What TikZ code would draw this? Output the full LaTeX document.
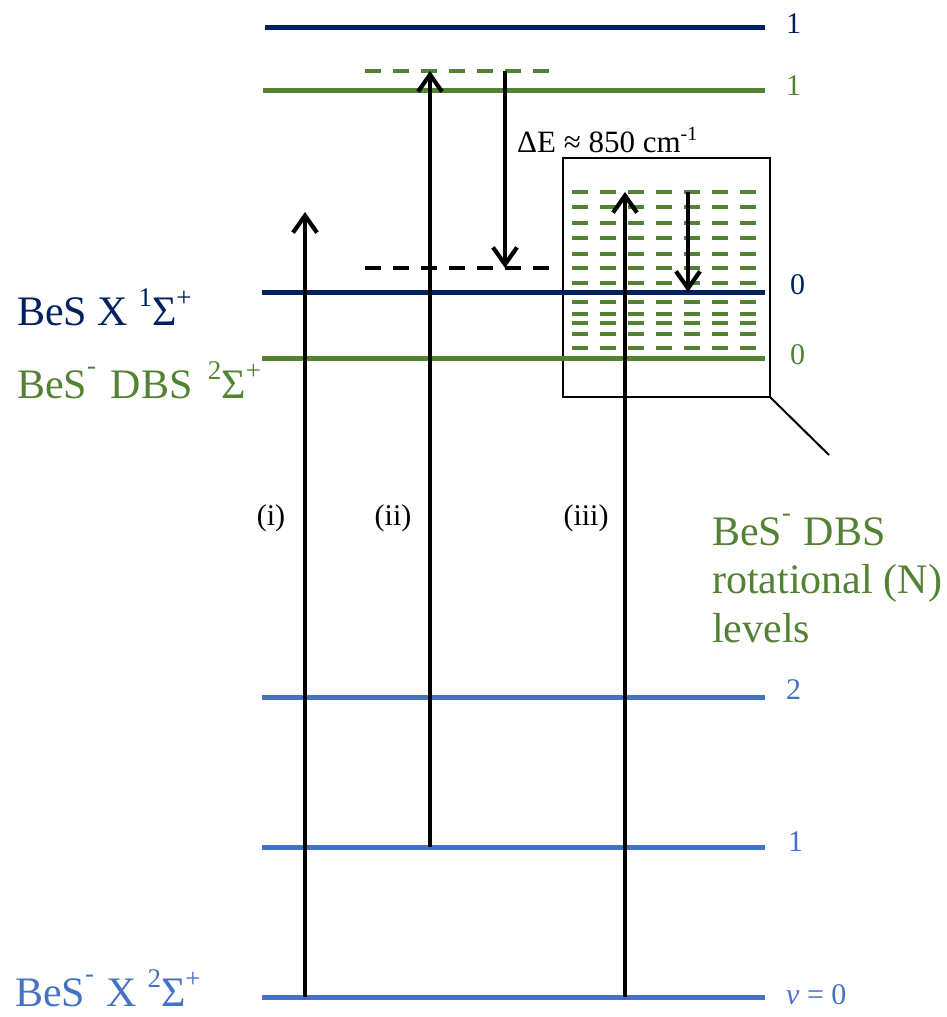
\documentclass[tikz,border=0pt]{standalone}
\usepackage{fontspec}
\setmainfont{Liberation Serif}
\usetikzlibrary{arrows.meta}
\definecolor{navyc}{RGB}{0,32,96}
\definecolor{greenc}{RGB}{84,130,53}
\definecolor{bluec}{RGB}{68,114,196}
\newcommand\bigsup[1]{\raisebox{19pt}{\fontsize{27}{27}\selectfont #1}}
\newcommand\minsup{\raisebox{24pt}{\fontsize{27}{27}\selectfont -}}
\newcommand\smallsup[1]{\raisebox{12pt}{\fontsize{20}{20}\selectfont #1}}
\begin{document}
\begin{tikzpicture}[x=1pt,y=-1pt,
  level/.style={line width=5pt},
  trans/.style={line width=4.2pt,-{Straight Barb[length=17pt,width=24pt]}},
  virt/.style={line width=4pt,dash pattern=on 16pt off 12pt},
  rotlev/.style={greenc,line width=4pt,dash pattern=on 16pt off 12pt},
  lvlab/.style={anchor=west,inner sep=0pt,font=\fontsize{30}{34}\selectfont},
  biglab/.style={anchor=base west,inner sep=0pt,font=\fontsize{42}{48}\selectfont},
  tlab/.style={inner sep=0pt,font=\fontsize{30}{34}\selectfont}]
\useasboundingbox (0,0) rectangle (946,1017);

% zoom box
\node[draw,line width=2pt,minimum width=207pt,minimum height=239pt,inner sep=0pt,outer sep=0pt] (box) at (666.5,277.5) {};
\coordinate (lead) at (829,455);
\draw[line width=2pt] (box.south east) -- (lead);

% rotational levels
\foreach \yy in {192,207,223,238,254,268,283,302,314,323,334,348}
  \draw[rotlev] (572,\yy) -- (756,\yy);

% level coordinates
\coordinate (a1L) at (265,27);  \coordinate (a1R) at (765,27);
\coordinate (g1L) at (263,90);  \coordinate (g1R) at (765,90);
\coordinate (a0L) at (262,292); \coordinate (a0R) at (765,292);
\coordinate (g0L) at (262,358); \coordinate (g0R) at (765,358);
\coordinate (b2L) at (262,697); \coordinate (b2R) at (765,697);
\coordinate (b1L) at (262,847); \coordinate (b1R) at (765,847);
\coordinate (b0L) at (262,997); \coordinate (b0R) at (765,997);
\coordinate (vgL) at (365,71);  \coordinate (vgR) at (552,71);
\coordinate (vkL) at (365,268); \coordinate (vkR) at (552,268);

\draw[level,navyc] (a1L) -- (a1R);
\draw[level,greenc] (g1L) -- (g1R);
\draw[level,navyc] (a0L) -- (a0R);
\draw[level,greenc] (g0L) -- (g0R);
\draw[level,bluec] (b2L) -- (b2R);
\draw[level,bluec] (b1L) -- (b1R);
\draw[level,bluec] (b0L) -- (b0R);
\draw[virt,greenc] (vgL) -- (vgR);
\draw[virt,black] (vkL) -- (vkR);

% transitions
\coordinate (iS) at (305,997);  \coordinate (iE) at (305,212);
\coordinate (iiS) at (430,847); \coordinate (iiE) at (430,71);
\coordinate (dS) at (505,71);   \coordinate (dE) at (505,268);
\coordinate (iiiS) at (625,997); \coordinate (iiiE) at (625,192);
\coordinate (rS) at (688,192);  \coordinate (rE) at (688,292);
\draw[trans] (iS) -- (iE);
\draw[trans] (iiS) -- (iiE);
\draw[trans] (dS) -- (dE);
\draw[trans] (iiiS) -- (iiiE);
\draw[trans] (rS) -- (rE);

% level labels
\node[lvlab,navyc] (la1) at (786,24) {1};
\node[lvlab,greenc] (lg1) at (786,86) {1};
\node[lvlab,navyc] (la0) at (790,285) {0};
\node[lvlab,greenc] (lg0) at (790,355) {0};
\node[lvlab,bluec] (lb2) at (786,690) {2};
\node[lvlab,bluec] (lb1) at (788,842) {1};
\node[lvlab,bluec] (lb0) at (786,995) {\textit{v} = 0};

% state labels
\node[biglab,navyc] (sA) at (17,325) {BeS X \bigsup{1}Σ\bigsup{+}};
\node[biglab,greenc] (sD) at (17,398) {BeS\minsup\hspace{4pt} DBS\hspace{5pt} \bigsup{2}Σ\bigsup{+}};
\node[biglab,bluec] (sX) at (15,1006) {BeS\minsup\hspace{2pt} X \bigsup{2}Σ\bigsup{+}};
\node[biglab,greenc] (r1) at (712,545) {BeS\minsup\hspace{2pt} DBS};
\node[biglab,greenc] (r2) at (712,593.5) {rotational (N)};
\node[biglab,greenc] (r3) at (712,642) {levels};

% transition labels
\node[tlab] (ti) at (271,518) {(i)};
\node[tlab] (tii) at (393,518) {(ii)};
\node[tlab] (tiii) at (586,518) {(iii)};
\node[anchor=base west,inner sep=0pt,font=\fontsize{31}{35}\selectfont] (dEl) at (517,152) {ΔE ≈ 850 cm\smallsup{-1}};
\end{tikzpicture}
\end{document}
